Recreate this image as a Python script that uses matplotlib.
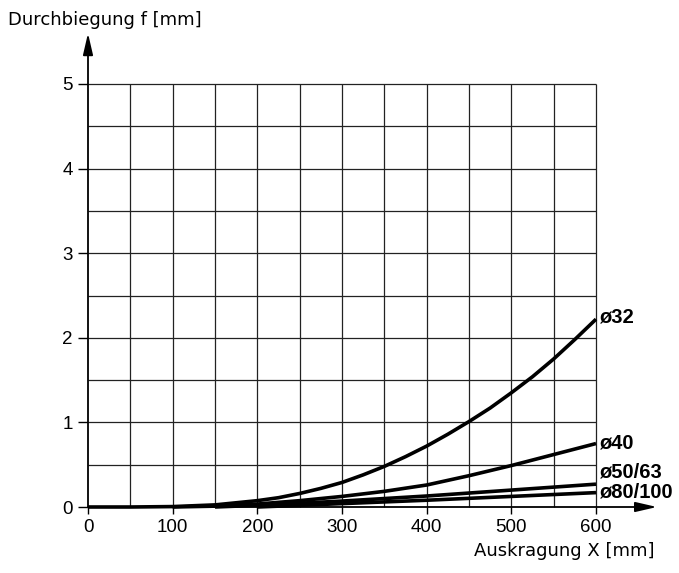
import matplotlib.pyplot as plt
import numpy as np

# Auskragung X [mm] / Durchbiegung f [mm]
x_32 = [0, 50, 100, 150, 200, 225, 250, 275, 300, 325, 350, 375, 400, 425, 450, 475,
        500, 525, 550, 575, 600]
f_32 = [0, 0, 0.005, 0.025, 0.075, 0.11, 0.16, 0.22, 0.29, 0.38, 0.48, 0.595, 0.72,
        0.86, 1.01, 1.17, 1.35, 1.54, 1.75, 1.98, 2.22]

x_40 = [100, 150, 200, 250, 300, 350, 400, 450, 500, 550, 600]
f_40 = [0, 0.01, 0.035, 0.075, 0.125, 0.185, 0.26, 0.37, 0.49, 0.62, 0.75]

x_50 = [150, 200, 300, 400, 500, 600]
f_50 = [0, 0.02, 0.07, 0.13, 0.20, 0.27]

x_80 = [200, 300, 400, 500, 600]
f_80 = [0, 0.04, 0.08, 0.125, 0.17]

labels = ['ø32', 'ø40', 'ø50/63', 'ø80/100']
label_y = [2.25, 0.76, 0.41, 0.18]

x_ticks = [0, 100, 200, 300, 400, 500, 600]
y_ticks = [0, 1, 2, 3, 4, 5]

plt.rcParams['font.family'] = ['Liberation Sans', 'DejaVu Sans']

fig = plt.figure(figsize=(6.79, 5.73), dpi=100)
ax = fig.add_axes([88 / 679, 1 - 507 / 573, 508 / 679, 423 / 573])
ax.set_xlim(0, 600)
ax.set_ylim(0, 5)

# grid every 50 mm / 0.5 mm
ax.vlines(np.arange(50, 601, 50), 0, 5, color='#222222', linewidth=0.9, clip_on=False)
ax.hlines(np.arange(0.5, 5.01, 0.5), 0, 600, color='#222222', linewidth=0.9, clip_on=False)

ax.set_xticks(x_ticks)
ax.set_yticks(y_ticks)
ax.tick_params(axis='y', which='major', length=7, width=1, labelsize=13.5, pad=4)
ax.tick_params(axis='x', which='major', length=5, width=1, labelsize=13.5, pad=4)
for s in ax.spines.values():
    s.set_visible(False)

# axes with arrows
arrow = dict(arrowstyle='-|>,head_length=1.3,head_width=0.3', color='black', lw=1.3,
             shrinkA=0, shrinkB=0)
ax.annotate('', xy=(0, 5.6), xytext=(0, 0), xycoords='data', arrowprops=arrow,
            annotation_clip=False)
ax.annotate('', xy=(672, 0), xytext=(0, 0), xycoords='data', arrowprops=arrow,
            annotation_clip=False)

series = [(x_32, f_32), (x_40, f_40), (x_50, f_50), (x_80, f_80)]
for (xs, fs), lab, ly in zip(series, labels, label_y):
    ax.plot(xs, fs, color='black', linewidth=2.6, solid_capstyle='butt', clip_on=False)
    ax.text(604, ly, lab, fontsize=14.5, fontweight='bold', va='center', ha='left')

fig.text(8 / 679, 1 - 20 / 573, 'Durchbiegung f [mm]', fontsize=13,
         family=['DejaVu Sans'], va='center', ha='left')
fig.text(655 / 679, 1 - 551 / 573, 'Auskragung X [mm]', fontsize=13,
         family=['DejaVu Sans'], va='center', ha='right')

fig.savefig('out.png', dpi=100)
